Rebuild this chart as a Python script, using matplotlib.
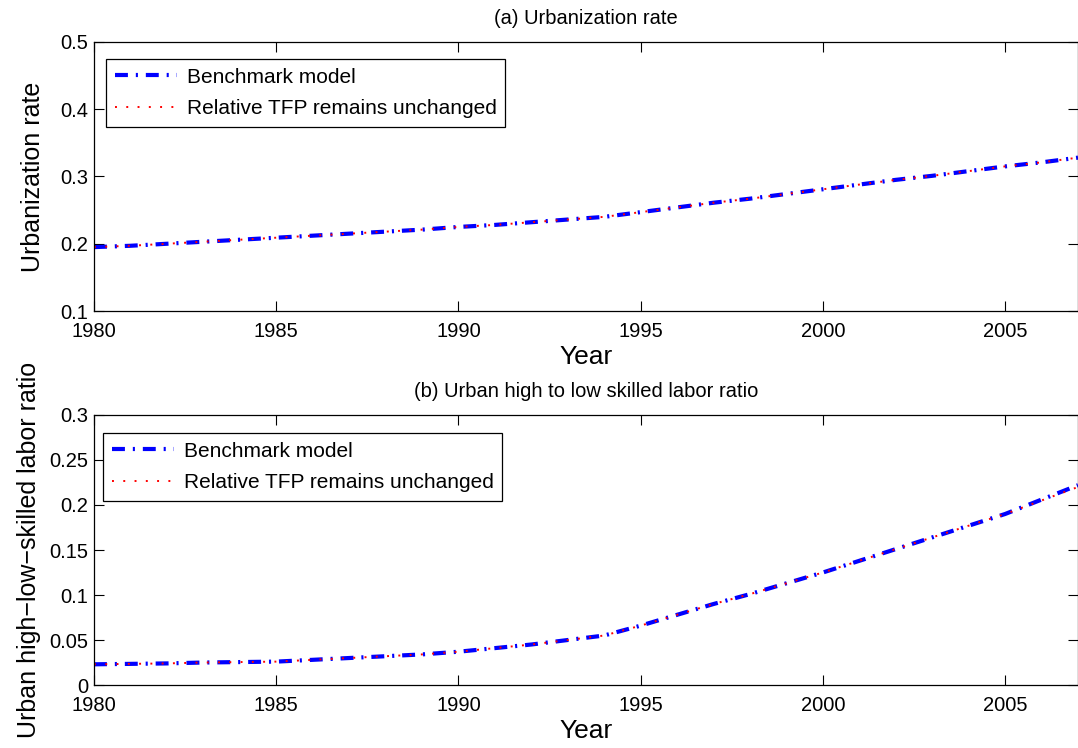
import numpy as np
import matplotlib
matplotlib.use('Agg')
import matplotlib.pyplot as plt

plt.rcParams['font.family'] = ['Liberation Sans', 'DejaVu Sans']

# Data ========================================================================
years = list(range(1980, 2008))

urban_bench = [0.195, 0.197, 0.200, 0.203, 0.206, 0.209, 0.212, 0.215, 0.218,
               0.221, 0.225, 0.228, 0.232, 0.236, 0.240, 0.247, 0.254, 0.261,
               0.267, 0.274, 0.281, 0.288, 0.295, 0.301, 0.308, 0.315, 0.321,
               0.328]
urban_tfp = [0.195, 0.197, 0.200, 0.203, 0.206, 0.209, 0.212, 0.215, 0.218,
             0.221, 0.225, 0.228, 0.232, 0.236, 0.240, 0.247, 0.254, 0.261,
             0.267, 0.274, 0.281, 0.288, 0.295, 0.301, 0.308, 0.315, 0.321,
             0.328]

skill_bench = [0.023, 0.0235, 0.024, 0.025, 0.0255, 0.026, 0.028, 0.030, 0.032,
               0.034, 0.037, 0.041, 0.045, 0.050, 0.055, 0.066, 0.078, 0.090,
               0.101, 0.113, 0.125, 0.138, 0.151, 0.164, 0.177, 0.190, 0.206,
               0.222]
skill_tfp = [0.023, 0.0235, 0.024, 0.025, 0.0255, 0.026, 0.028, 0.030, 0.032,
             0.034, 0.037, 0.041, 0.045, 0.050, 0.055, 0.066, 0.078, 0.090,
             0.101, 0.113, 0.125, 0.138, 0.151, 0.164, 0.177, 0.190, 0.205,
             0.220]

labels = ['Benchmark model', 'Relative TFP remains unchanged']
xticks = [1980, 1985, 1990, 1995, 2000, 2005]
yticks_a = [0.1, 0.2, 0.3, 0.4, 0.5]
yticks_b = [0, 0.05, 0.1, 0.15, 0.2, 0.25, 0.3]

# Figure ======================================================================
fig = plt.figure(figsize=(10.78, 7.48), dpi=100)
ax1 = fig.add_axes([0.0872, 0.5842, 0.9128, 0.3597])
ax2 = fig.add_axes([0.0872, 0.0842, 0.9128, 0.3610])


def style(ax, yticks, ylim, ylabel, ypad, title, anchor):
    ax.set_xlim(1980, 2007)
    ax.set_ylim(*ylim)
    ax.set_xticks(xticks)
    ax.set_yticks(yticks)
    ax.set_yticklabels(['%g' % v for v in yticks])
    ax.tick_params(direction='in', top=True, right=True, length=7,
                   width=0.8, labelsize=14.5)
    ax.tick_params(axis='x', pad=8)
    ax.tick_params(axis='y', pad=4)
    for s in ax.spines.values():
        s.set_linewidth(0.9)
    ax.set_xlabel('Year', fontsize=19, labelpad=3)
    ax.set_ylabel(ylabel, fontsize=18, labelpad=ypad)
    ax.set_title(title, fontsize=14.5, pad=13)
    leg = ax.legend(loc='upper left', bbox_to_anchor=anchor, fontsize=15,
                    fancybox=False, edgecolor='black', framealpha=1,
                    handlelength=3.0, handletextpad=0.45, borderpad=0.42,
                    labelspacing=0.6, borderaxespad=0)
    leg.get_frame().set_linewidth(0.9)


for ax, b, t in [(ax1, urban_bench, urban_tfp), (ax2, skill_bench, skill_tfp)]:
    ax.plot(years, b, color='blue', lw=3.0, dashes=[3.1, 1.9, 0.5, 1.9],
            label=labels[0])
    ax.plot(years, t, color='red', lw=1.4, dashes=[1.0, 4.8],
            label=labels[1])

style(ax1, yticks_a, (0.1, 0.5), 'Urbanization rate', 11,
      '(a) Urbanization rate', (12 / 984, 1 - 17 / 269))
style(ax2, yticks_b, (0, 0.3), 'Urban high\u2212low\u2212skilled labor ratio', 6,
      '(b) Urban high to low skilled labor ratio', (9 / 984, 1 - 18 / 270))

plt.savefig('out.png', dpi=100)
